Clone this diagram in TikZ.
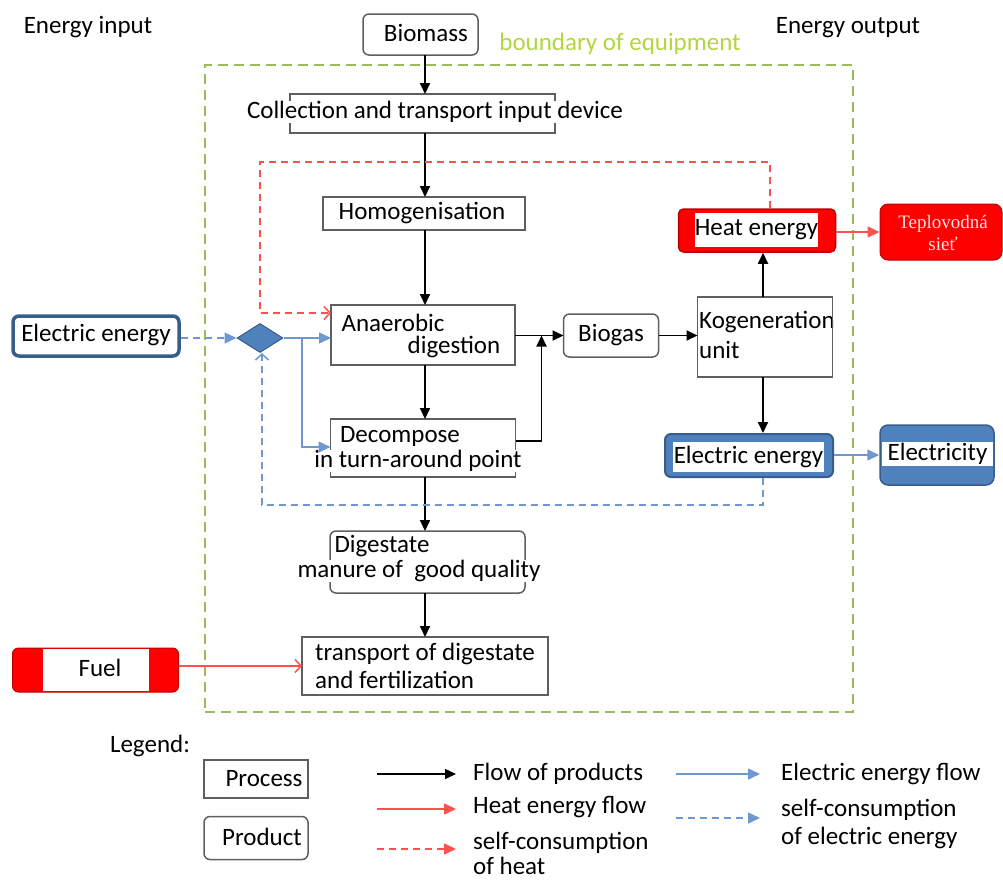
\documentclass[tikz,border=0pt]{standalone}
\usepackage{fontspec}
\setmainfont{Carlito}
\newfontfamily\tepfont{Liberation Serif}
\usetikzlibrary{arrows.meta,shapes.geometric}

\definecolor{boxgray}{RGB}{95,95,95}
\definecolor{offblue}{RGB}{79,129,189}
\definecolor{darkblue}{RGB}{56,93,138}
\definecolor{elline}{RGB}{112,152,208}
\definecolor{heatred}{RGB}{255,0,0}
\definecolor{darkred}{RGB}{190,0,0}
\definecolor{heatline}{RGB}{255,80,80}
\definecolor{boundgreen}{RGB}{155,187,89}
\definecolor{boundtext}{RGB}{178,214,60}
\definecolor{teptext}{RGB}{255,225,225}

\begin{document}
\begin{tikzpicture}[x=1pt,y=-1pt,font=\fontsize{25}{28}\selectfont,
  proc/.style={draw=boxgray,line width=1.5pt,fill=white,inner sep=0pt,outer sep=0pt},
  prod/.style={proc,rounded corners=6pt},
  txt/.style={inner sep=0pt,fill=white,text=black},
  bare/.style={inner sep=0pt,text=black},
  flow/.style={line width=1.8pt,-{Triangle[length=11pt,width=10pt]}},
  heatflow/.style={draw=heatline,line width=1.5pt,-{Triangle[length=12pt,width=11pt]}},
  heatown/.style={draw=heatline,line width=1.5pt,dash pattern=on 7pt off 5pt,-{Straight Barb[length=6pt,width=13pt]}},
  fuelflow/.style={draw=heatline,line width=1.5pt,-{Straight Barb[length=6pt,width=13pt]}},
  elflow/.style={draw=elline,line width=1.5pt,-{Triangle[length=12pt,width=11pt]}},
  elown/.style={draw=elline,line width=1.5pt,dash pattern=on 7pt off 5pt,-{Triangle[length=12pt,width=11pt]}},
  elownup/.style={draw=elline,line width=1.5pt,dash pattern=on 7pt off 5pt,-{Straight Barb[length=6pt,width=13pt]}}]
\useasboundingbox (0,0) rectangle (1003,881);

\node[bare] (input) at (88,27) {Energy input};
\node[bare] (output) at (848,28) {Energy output};
\node[draw=boundgreen,line width=2.5pt,dash pattern=on 10pt off 6pt,minimum width=648pt,minimum height=647pt,inner sep=0pt] (bound) at (529,388.5) {};
\node[inner sep=0pt,text=boundtext] (boundlbl) at (620,44) {boundary of equipment};

\coordinate (col) at (425,0);
\node[prod,minimum width=115pt,minimum height=41pt] (biomass) at (420.5,34.5) {};
\node[bare] at (426,33) {Biomass};
\node[proc,minimum width=265pt,minimum height=39pt] (collect) at (422.5,113.5) {};
\node[txt] at (435,112) {Collection and transport input device};
\node[proc,minimum width=202pt,minimum height=33pt] (homog) at (424,213.5) {};
\node[bare] at (422,213) {Homogenisation};
\node[proc,minimum width=184pt,minimum height=60pt] (anaer) at (423,335) {};
\node[bare] at (393,323) {Anaerobic};
\node[bare] at (454,347) {digestion};
\node[proc,minimum width=185pt,minimum height=58pt] (decomp) at (423,448) {};
\node[txt] at (400,436) {Decompose};
\node[txt] at (418,461) {in turn-around point};
\node[prod,minimum width=195pt,minimum height=62pt] (digest) at (427.5,562) {};
\node[txt] at (382,546) {Digestate};
\node[txt] at (419,571) {manure of\ \ good quality};
\node[proc,minimum width=246pt,minimum height=58pt] (transp) at (425,666) {};
\node[bare,anchor=west,align=left] at (315,666) {transport of digestate\\and fertilization};

\node[prod,minimum width=95pt,minimum height=43pt] (biogas) at (611,335.5) {};
\node[bare] at (611,335) {Biogas};
\node[proc,minimum width=135pt,minimum height=80pt] (kogen) at (765,337) {};
\node[bare,anchor=west] at (699,322) {Kogeneration};
\node[bare,anchor=west] at (699,350) {unit};
\draw[boxgray,line width=1.5pt] (kogen.north west) rectangle (kogen.south east);

\node[draw=darkred,fill=heatred,line width=1.5pt,rounded corners=5pt,minimum width=157pt,minimum height=43pt,inner sep=0pt] (heat) at (757,230.5) {};
\node[txt,minimum width=123pt,minimum height=34pt] at (756.5,229.5) {Heat energy};
\node[draw=darkred,fill=heatred,line width=1pt,rounded corners=8pt,minimum width=122pt,minimum height=56pt,inner sep=0pt] (tep) at (941,232) {};
\node[inner sep=0pt,align=center,text=teptext,font=\tepfont\fontsize{19}{22}\selectfont] at (943,233) {Teplovodná\\sieť};

\node[draw=darkblue,fill=offblue,line width=2pt,rounded corners=6pt,minimum width=168pt,minimum height=43pt,inner sep=0pt] (elout) at (749,455.5) {};
\node[txt,minimum width=151pt,minimum height=30pt] at (748.5,457) {Electric energy};
\node[draw=darkblue,fill=offblue,line width=1.5pt,rounded corners=8pt,minimum width=114pt,minimum height=60pt,inner sep=0pt] (grid) at (937,455) {};
\node[txt,minimum width=111pt,minimum height=24pt] at (937.5,453.5) {Electricity};

\node[draw=darkblue,fill=white,line width=3.5pt,rounded corners=6pt,minimum width=166pt,minimum height=40pt,inner sep=0pt] (elin) at (96,336) {};
\node[bare] at (96,335) {Electric energy};
\node[diamond,draw=darkblue,fill=offblue,line width=1pt,inner sep=0pt,minimum width=46pt,minimum height=29pt] (split) at (260,338) {};

\node[draw=darkred,fill=heatred,line width=1pt,rounded corners=6pt,minimum width=166pt,minimum height=44pt,inner sep=0pt] (fuel) at (95.5,670) {};
\node[fill=white,inner sep=0pt,minimum width=106pt,minimum height=42pt] at (96,670) {};
\node[bare] at (100,668) {Fuel};

\draw[flow] (biomass.south -| col) -- (collect.north -| col);
\draw[flow] (collect.south -| col) -- (homog.north -| col);
\draw[flow] (homog.south -| col) -- (anaer.north -| col);
\draw[flow] (anaer.south -| col) -- (decomp.north -| col);
\draw[flow] (decomp.south -| col) -- (digest.north -| col);
\draw[flow] (digest.south -| col) -- (transp.north -| col);
\draw[flow] (anaer.east |- biogas.west) -- (biogas.west);
\draw[flow] ([yshift=7pt]decomp.east) -| ([xshift=-22pt]biogas.west);
\draw[flow] (biogas.east) -- (biogas.east -| kogen.west);
\draw[flow] ([xshift=-2pt]kogen.north) -- ([xshift=-2pt]kogen.north |- heat.south);
\draw[flow] ([xshift=-2pt]kogen.south) -- ([xshift=-2pt]kogen.south |- elout.north);

\draw[heatflow] (heat.east |- tep.west) -- (tep.west);
\draw[heatown] ([xshift=13pt]heat.north) |- (260,162) |- ([yshift=22pt]anaer.west);
\draw[fuelflow] (fuel.east |- transp.west) -- (transp.west);

\draw[elflow] (elout.east |- grid.west) -- (grid.west);
\draw[elown] (elin.east |- split.west) -- (split.west);
\draw[elflow] (split.east) -- (split.east -| anaer.west);
\draw[elflow] (302,338) |- ([yshift=1pt]decomp.west);
\draw[elownup] ([xshift=14pt]elout.south) |- (262,505) -- ([xshift=2pt]split.south);

\node[bare] (legend) at (150,746) {Legend:};
\node[proc,minimum width=104pt,minimum height=38pt] (lproc) at (256,779) {};
\node[bare] at (264,779) {Process};
\node[prod,minimum width=104pt,minimum height=43pt] (lprod) at (256,838) {};
\node[bare] at (262,837) {Product};

\coordinate (la) at (377,774);
\coordinate (lb) at (377,809);
\coordinate (lc) at (377,849);
\coordinate (ld) at (676,774);
\coordinate (le) at (676,818);
\draw[flow,line width=1.5pt] (la) -- ++(79,0) coordinate (laa);
\draw[heatflow] (lb) -- ++(79,0) coordinate (lbb);
\draw[heatown,-{Triangle[length=12pt,width=11pt]}] (lc) -- ++(79,0) coordinate (lcc);
\draw[elflow] (ld) -- ++(84,0) coordinate (ldd);
\draw[elown] (le) -- ++(84,0) coordinate (lee);
\node[bare,anchor=west] at (473,774) {Flow of products};
\node[bare,anchor=west] at (473,807) {Heat energy flow};
\node[bare,anchor=west,align=left,font=\fontsize{25}{25}\selectfont] at (473,853) {self-consumption\\of heat};
\node[bare,anchor=west] at (781,774) {Electric energy flow};
\node[bare,anchor=west,align=left] at (781,824) {self-consumption\\of electric energy};
\end{tikzpicture}
\end{document}
